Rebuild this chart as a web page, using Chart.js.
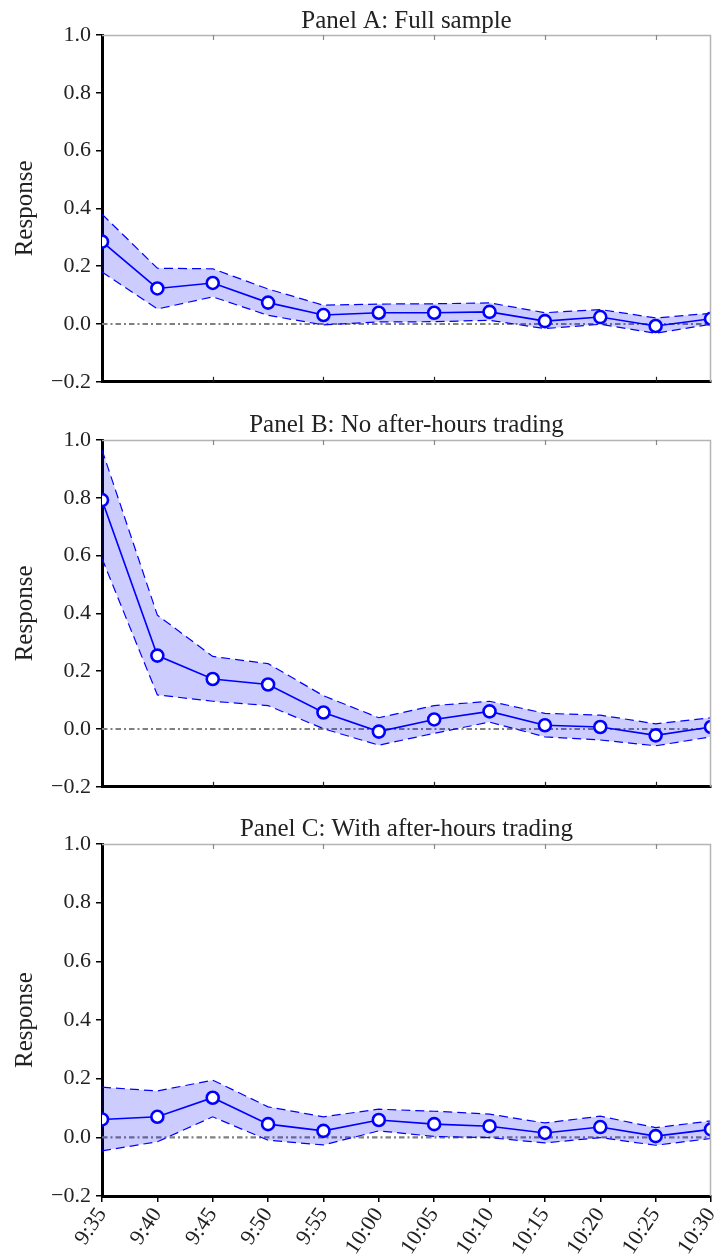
<!DOCTYPE html>
<html><head><meta charset="utf-8">
<script src="https://cdn.jsdelivr.net/npm/chart.js@4.4.1/dist/chart.umd.min.js"></script>
<style>
html,body{margin:0;padding:0;background:#fff;}
#wrap{position:relative;width:725px;height:1258px;overflow:hidden;background:#fff;}
canvas{position:absolute;left:0;}
</style></head><body>
<div id="wrap">
<canvas id="cA" width="725" height="400" style="top:0px"></canvas>
<canvas id="cB" width="725" height="405" style="top:400px"></canvas>
<canvas id="cC" width="725" height="453" style="top:805px"></canvas>
</div>
<script>
const categories = ['9:35','9:40','9:45','9:50','9:55','10:00','10:05','10:10','10:15','10:20','10:25','10:30'];
const yTickLabels = ['\u22120.2','0.0','0.2','0.4','0.6','0.8','1.0'];
const yAxisTitle = 'Response';
const titleA = 'Panel A: Full sample';
const titleB = 'Panel B: No after-hours trading';
const titleC = 'Panel C: With after-hours trading';

const respA  = [0.285, 0.123, 0.142, 0.074, 0.031, 0.039, 0.039, 0.042, 0.010, 0.024, -0.007, 0.018];
const upperA = [0.380, 0.193, 0.191, 0.121, 0.065, 0.069, 0.070, 0.073, 0.039, 0.050, 0.021, 0.037];
const lowerA = [0.180, 0.052, 0.094, 0.030, -0.003, 0.007, 0.008, 0.013, -0.016, -0.001, -0.032, -0.001];

const respB  = [0.792, 0.254, 0.173, 0.154, 0.057, -0.009, 0.033, 0.061, 0.013, 0.007, -0.022, 0.007];
const upperB = [0.966, 0.394, 0.251, 0.226, 0.115, 0.039, 0.081, 0.096, 0.054, 0.048, 0.018, 0.039];
const lowerB = [0.590, 0.118, 0.096, 0.081, 0.001, -0.056, -0.015, 0.024, -0.027, -0.038, -0.058, -0.027];

const respC  = [0.061, 0.070, 0.135, 0.045, 0.022, 0.059, 0.045, 0.038, 0.015, 0.035, 0.004, 0.027];
const upperC = [0.171, 0.158, 0.195, 0.104, 0.070, 0.096, 0.089, 0.079, 0.049, 0.072, 0.033, 0.056];
const lowerC = [-0.046, -0.015, 0.070, -0.010, -0.026, 0.022, 0.003, -0.001, -0.019, -0.001, -0.027, -0.004];

const zeroValue = 0;
const FONT = "'Liberation Serif', 'Times New Roman', serif";
const TXT = '#222';
const BLUE = '#0000ff';

const framePlugin = {
  id: 'frame',
  beforeDatasetsDraw(chart) {
    const {ctx, chartArea: a, scales: {y}} = chart;
    ctx.save();
    const y0 = y.getPixelForValue(zeroValue);
    ctx.strokeStyle = '#808080';
    ctx.lineWidth = 2.2;
    ctx.setLineDash([5.5, 3, 2, 3]);
    ctx.beginPath();
    ctx.moveTo(a.left, y0);
    ctx.lineTo(a.right, y0);
    ctx.stroke();
    ctx.restore();
  },
  afterDatasetsDraw(chart, args, opts) {
    const {ctx, chartArea: a, scales: {x}} = chart;
    ctx.save();
    ctx.setLineDash([]);
    ctx.strokeStyle = '#b4b4b4';
    ctx.lineWidth = 1.5;
    ctx.beginPath();
    ctx.moveTo(a.left, a.top + 0.5);
    ctx.lineTo(a.right, a.top + 0.5);
    ctx.moveTo(a.right - 0.5, a.top);
    ctx.lineTo(a.right - 0.5, a.bottom);
    ctx.stroke();
    for (let i = 2; i < categories.length - 1; i += 2) {
      const px = Math.round(x.getPixelForValue(i)) + 0.5;
      ctx.strokeStyle = '#888';
      ctx.lineWidth = 1.2;
      ctx.beginPath();
      ctx.moveTo(px, a.top);
      ctx.lineTo(px, a.top + 5);
      ctx.stroke();
      if (opts.innerBottom) {
        ctx.strokeStyle = '#222';
        ctx.beginPath();
        ctx.moveTo(px, a.bottom);
        ctx.lineTo(px, a.bottom - 5);
        ctx.stroke();
      }
    }
    ctx.restore();
  }
};

function makePanel(id, title, resp, upper, lower, cfg) {
  const titleSize = 25;
  const lh = titleSize * 1.2;
  return new Chart(document.getElementById(id), {
    type: 'line',
    data: {
      labels: categories,
      datasets: [
        { data: upper, borderColor: BLUE, borderWidth: 1.2, borderDash: [9, 5],
          pointRadius: 0, fill: '+1', backgroundColor: 'rgba(0,0,255,0.2)', tension: 0, order: 3, clip: 0 },
        { data: lower, borderColor: BLUE, borderWidth: 1.2, borderDash: [9, 5],
          pointRadius: 0, fill: false, tension: 0, order: 2, clip: 0 },
        { data: resp, borderColor: BLUE, borderWidth: 1.6, pointRadius: 6,
          pointBorderWidth: 2.6, pointBackgroundColor: '#fff', pointBorderColor: BLUE,
          fill: false, tension: 0, order: 0, clip: 0 }
      ]
    },
    options: {
      responsive: false,
      animation: false,
      devicePixelRatio: 1,
      events: [],
      layout: { padding: { left: 0, right: 14, top: 0, bottom: 0 } },
      plugins: {
        legend: { display: false },
        tooltip: { enabled: false },
        title: { display: true, fullSize: false, text: title, color: TXT,
          font: { family: FONT, size: titleSize, weight: 'normal', lineHeight: 1.2 },
          padding: { top: cfg.titleTop, bottom: cfg.chartTop - cfg.titleTop - lh } },
        frame: { innerBottom: cfg.innerBottom }
      },
      scales: {
        x: {
          type: 'category', offset: false, z: 1,
          afterFit(s) { s.height = cfg.xHeight; s.paddingLeft = 0; s.paddingRight = 0; },
          border: { display: true, color: '#000', width: 3 },
          grid: { display: cfg.showX, drawOnChartArea: false, drawTicks: true, tickLength: 6, color: '#000', lineWidth: 1.5 },
          ticks: { display: cfg.showX, autoSkip: false, minRotation: 56, maxRotation: 56, padding: 1, color: TXT,
            font: { family: FONT, size: 22 } }
        },
        y: {
          min: -0.2, max: 1.0, z: 1,
          afterFit(s) { s.width = 102; },
          border: { display: true, color: '#000', width: 3 },
          grid: { display: true, drawOnChartArea: false, drawTicks: true, tickLength: 6, color: '#000', lineWidth: 1.5 },
          ticks: { stepSize: 0.2, padding: 5, color: TXT, font: { family: FONT, size: 22 },
            callback: (v, i) => yTickLabels[i] },
          title: { display: true, text: yAxisTitle, color: TXT, font: { family: FONT, size: 25, lineHeight: 1.2 },
            padding: { top: 10, bottom: 0 } }
        }
      }
    },
    plugins: [framePlugin]
  });
}

makePanel('cA', titleA, respA, upperA, lowerA, { titleTop: 6, chartTop: 35, xHeight: 14, showX: false, innerBottom: true });
makePanel('cB', titleB, respB, upperB, lowerB, { titleTop: 10, chartTop: 40, xHeight: 14, showX: false, innerBottom: true });
makePanel('cC', titleC, respC, upperC, lowerC, { titleTop: 9, chartTop: 39, xHeight: 62, showX: true, innerBottom: false });
</script>
</body></html>
